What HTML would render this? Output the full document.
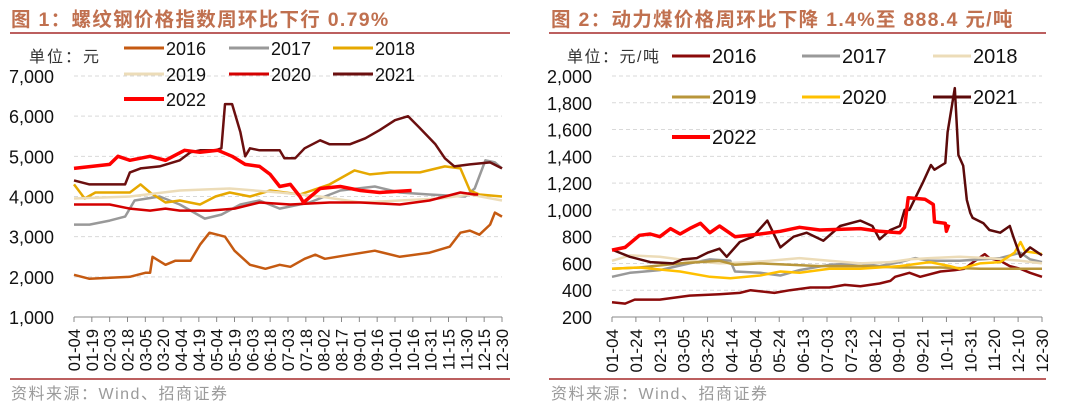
<!DOCTYPE html>
<html><head><meta charset="utf-8"><style>
body{margin:0;background:#fff;width:1080px;height:409px;overflow:hidden;font-family:"Liberation Sans","Noto Sans CJK SC",sans-serif}
svg{position:absolute;left:0;top:0}
</style></head><body>
<svg id="c" width="1080" height="409" font-family="Liberation Sans, Noto Sans CJK SC, sans-serif">
<text x="11" y="26" font-size="19.5" font-weight="bold" fill="#c0704f" letter-spacing="1.3">图 1：螺纹钢价格指数周环比下行 0.79%</text>
<line x1="10" y1="33" x2="510" y2="33" stroke="#a52a2a" stroke-width="1.5"/>
<text x="551" y="26" font-size="19.5" font-weight="bold" fill="#c0704f" letter-spacing="1.3">图 2：动力煤价格周环比下降 1.4%至 888.4 元/吨</text>
<line x1="549" y1="33" x2="1046" y2="33" stroke="#a52a2a" stroke-width="1.5"/>
<text x="29" y="62" font-size="16" fill="#333" letter-spacing="2">单位：元</text>
<text x="567" y="62" font-size="16" fill="#333" letter-spacing="1.5">单位：元/吨</text>
<line x1="10" y1="379" x2="510" y2="379" stroke="#a52a2a" stroke-width="1.5"/>
<line x1="549" y1="379" x2="1046" y2="379" stroke="#a52a2a" stroke-width="1.5"/>
<text x="11" y="399" font-size="16" fill="#9a9a9a" letter-spacing="1.5">资料来源：Wind、招商证券</text>
<text x="551" y="399" font-size="16" fill="#9a9a9a" letter-spacing="1.5">资料来源：Wind、招商证券</text>
<g id="g1"></g><g id="g2"></g>
</svg>
<script>
// ---- Chart 1 data (day-of-year, value) ----
const c1Ticks=[1000,2000,3000,4000,5000,6000,7000];
const c1Labels=["01-04","01-19","02-03","02-18","03-05","03-20","04-04","04-19","05-04","05-19","06-03","06-18","07-03","07-18","08-02","08-17","09-01","09-16","10-01","10-16","10-31","11-15","11-30","12-15","12-30"];
const c1Names=["2016","2017","2018","2019","2020","2021","2022"];
const s16d=[4,17,51,64,68,70,81,89,102,110,118,131,139,152,165,177,186,198,207,215,236,257,278,303,320,329,337,345,354,358,364];
const s16v=[2050,1950,2000,2100,2100,2500,2300,2400,2400,2800,3100,3000,2650,2300,2200,2300,2250,2450,2550,2450,2550,2650,2500,2600,2750,3100,3150,3050,3300,3600,3500];
const s17d=[4,17,34,47,55,76,93,114,128,144,160,177,202,228,257,278,303,333,341,350,358,364];
const s17v=[3300,3300,3400,3500,3900,4000,3800,3450,3550,3800,3900,3700,3850,4150,4250,4100,4050,4000,4200,4900,4850,4700];
const s18d=[4,13,22,51,60,68,81,93,110,123,135,152,169,194,219,240,253,270,295,316,329,337,345,364];
const s18v=[4300,3950,4100,4100,4300,4100,3850,3900,3800,4000,4100,4000,4150,4050,4300,4650,4550,4600,4600,4750,4700,4150,4050,4000];
const s19d=[4,51,93,135,177,211,245,278,312,337,364];
const s19v=[3950,4000,4150,4200,4100,4000,3850,3900,3950,4050,3900];
const s20d=[4,34,51,68,81,93,118,139,160,186,219,245,278,303,329,341,344];
const s20v=[3800,3800,3700,3650,3700,3650,3650,3700,3850,3800,3850,3850,3800,3900,4100,4050,4050];
const s21d=[4,17,47,51,60,76,93,102,110,123,128,131,137,144,148,152,160,177,181,190,198,211,219,236,249,261,274,285,295,308,316,324,337,354,364];
const s21v=[4400,4300,4300,4600,4700,4750,4900,5100,5150,5150,5200,6300,6300,5600,5000,5200,5150,5150,4950,4950,5200,5400,5300,5300,5450,5650,5900,6000,5700,5300,4950,4750,4800,4850,4700];
const s22d=[4,34,41,51,68,81,97,110,125,137,148,160,169,177,186,194,197,211,228,245,261,288];
const s22v=[4700,4800,5000,4900,5000,4900,5150,5100,5150,5000,4800,4750,4550,4250,4300,4000,3850,4200,4250,4150,4100,4150];
// ---- Chart 2 data ----
const c2Ticks=[200,400,600,800,1000,1200,1400,1600,1800,2000];
const c2Labels=["01-04","01-24","02-13","03-05","03-25","04-14","05-04","05-24","06-13","07-03","07-23","08-12","09-01","09-21","10-11","10-31","11-20","12-10","12-30"];
const c2Names=["2016","2017","2018","2019","2020","2021","2022"];
const t16d=[4,15,23,44,69,94,111,120,140,153,170,186,199,212,228,237,241,253,262,279,291,299,308,316,320,329,337,346,354,364];
const t16v=[310,300,330,330,360,370,380,400,380,400,420,420,440,430,450,470,500,530,500,540,550,560,620,670,640,620,580,560,530,500];
const t17d=[4,19,44,69,86,103,107,128,145,161,186,212,228,245,258,270,295,329,346,354,364];
const t17v=[500,530,550,600,630,620,540,530,510,550,590,600,580,610,640,620,620,640,680,630,610];
const t18d=[4,19,44,69,94,120,136,161,186,212,237,253,270,295,320,346,364];
const t18v=[620,660,650,620,600,610,620,640,620,600,610,630,640,650,640,620,600];
const t19d=[4,27,61,94,107,128,153,178,212,245,279,312,346,364];
const t19v=[560,570,600,620,590,600,590,580,580,570,570,560,560,560];
const t20d=[4,27,61,86,103,128,145,161,186,212,245,270,287,295,312,329,341,346,350,358,364];
const t20v=[560,570,540,500,490,510,540,530,560,560,580,610,580,560,600,610,680,760,690,680,670];
const t21d=[5,19,36,55,63,75,84,94,100,111,122,134,145,156,167,181,195,212,222,228,237,245,249,253,264,271,274,283,285,291,294,298,301,304,306,315,320,329,337,340,346,354,364];
const t21v=[700,650,610,600,630,640,680,710,650,760,800,920,720,800,830,770,880,920,880,780,850,880,1000,1000,1200,1335,1300,1350,1580,1910,1410,1330,1075,977,940,900,850,830,880,800,650,720,660];
const t22d=[4,15,27,36,44,53,61,69,78,86,94,107,128,145,161,178,212,228,245,249,252,266,273,274,283,284,286];
const t22v=[700,720,810,820,800,860,820,860,900,830,880,800,820,840,870,850,860,840,830,870,1090,1080,1040,910,900,840,890];

const NS="http://www.w3.org/2000/svg";
function mk(tag,attrs,parent){const e=document.createElementNS(NS,tag);for(const k in attrs)e.setAttribute(k,attrs[k]);parent.appendChild(e);return e;}

function drawChart(g,cfg){
  const x=d=>cfg.x0+(d-4)/360*(cfg.x1-cfg.x0);
  const y=v=>cfg.yb-(v-cfg.vmin)/(cfg.vmax-cfg.vmin)*(cfg.yb-cfg.yt);
  cfg.ticks.forEach((t,i)=>{
    if(i>0){const l=mk('line',{x1:cfg.x0,x2:cfg.x1,y1:y(t),y2:y(t),stroke:'#d9d9d9','stroke-dasharray':'4,3'},g);
    
    }
    const tx=mk('text',{x:cfg.x0-20,y:y(t)+7,'text-anchor':'end','font-size':cfg.tfs,fill:'#111'},g);
    tx.textContent=t.toLocaleString('en-US');
    
    
  });
  const ax=mk('line',{x1:cfg.x0,x2:cfg.x1,y1:cfg.yb,y2:cfg.yb,stroke:'#888'},g);
  
  
  const n=cfg.labels.length;
  cfg.labels.forEach((lb,i)=>{
    const xx=cfg.x0+i*(cfg.x1-cfg.x0)/(n-1);
    const tk=mk('line',{x1:xx,x2:xx,y1:cfg.yb,y2:cfg.yb+5,stroke:'#888'},g);
    
    
    const t=mk('text',{x:0,y:0,'font-size':cfg.xfs,fill:'#111','text-anchor':'end',transform:`translate(${xx+6},${cfg.yb+12}) rotate(-90)`},g);
    t.textContent=lb;
    
    
  });
  cfg.series.forEach(s=>{
    const pts=s.d.map((d,i)=>x(d).toFixed(1)+','+y(s.v[i]).toFixed(1)).join(' ');
    const p=mk('polyline',{points:pts,fill:'none',stroke:s.c,'stroke-width':s.w,'stroke-linejoin':'round'},g);
    
    
  });
  cfg.legend.forEach((L,i)=>{
    const s=cfg.series[i];
    const l=mk('line',{x1:L[0],x2:L[0]+cfg.ll,y1:L[1],y2:L[1],stroke:s.c,'stroke-width':s.w+0.5},g);
    
    
    const t=mk('text',{x:L[0]+cfg.ll+2,y:L[1]+7,'font-size':cfg.lfs,fill:'#111'},g);
    t.textContent=s.n;
    
    
  });
}
drawChart(document.getElementById('g1'),{x0:74,x1:502,yt:76,yb:317,vmin:1000,vmax:7000,ticks:c1Ticks,labels:c1Labels,tfs:18,xfs:16.5,lfs:18,ll:40,
 series:[{n:c1Names[0],d:s16d,v:s16v,c:'#c55a11',w:2.5},{n:c1Names[1],d:s17d,v:s17v,c:'#999999',w:2.5},{n:c1Names[2],d:s18d,v:s18v,c:'#e6a800',w:2.5},{n:c1Names[3],d:s19d,v:s19v,c:'#ecdcb8',w:2.5},{n:c1Names[4],d:s20d,v:s20v,c:'#d40000',w:2.5},{n:c1Names[5],d:s21d,v:s21v,c:'#6b0f0f',w:2.5},{n:c1Names[6],d:s22d,v:s22v,c:'#ff0000',w:3.5}],
 legend:[[124,48],[229,48],[333,48],[124,74],[229,74],[333,74],[124,99]]});
drawChart(document.getElementById('g2'),{x0:612,x1:1042,yt:76,yb:317,vmin:200,vmax:2000,ticks:c2Ticks,labels:c2Labels,tfs:18,xfs:17,lfs:20,ll:38,
 series:[{n:c2Names[0],d:t16d,v:t16v,c:'#8b0a0a',w:2.5},{n:c2Names[1],d:t17d,v:t17v,c:'#999999',w:2.5},{n:c2Names[2],d:t18d,v:t18v,c:'#ecdcb8',w:2.5},{n:c2Names[3],d:t19d,v:t19v,c:'#b8963a',w:2.5},{n:c2Names[4],d:t20d,v:t20v,c:'#ffc000',w:2.5},{n:c2Names[5],d:t21d,v:t21v,c:'#5c0a0a',w:2.5},{n:c2Names[6],d:t22d,v:t22v,c:'#ff0000',w:3.5}],
 legend:[[672,56],[802,56],[933,56],[672,97],[802,97],[933,97],[672,137]]});
</script>
</body></html>
